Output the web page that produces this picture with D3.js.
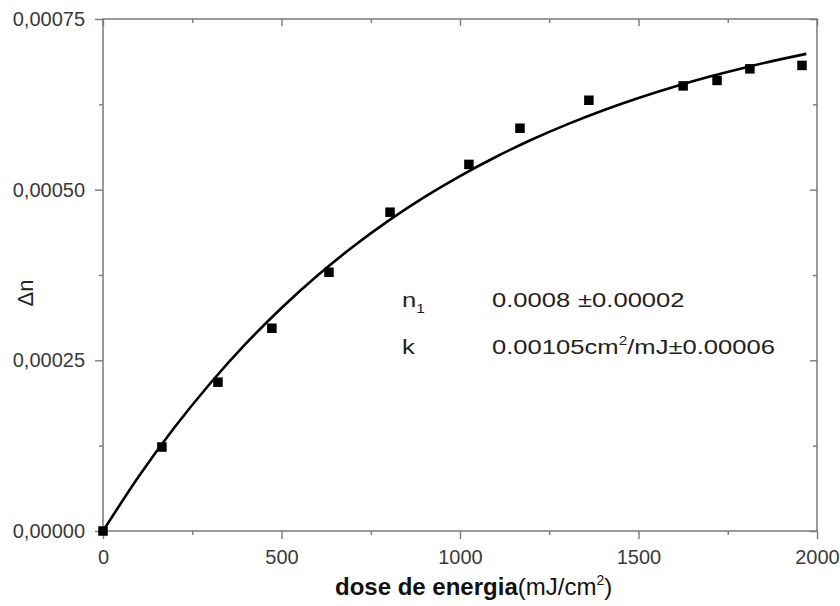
<!DOCTYPE html>
<html>
<head>
<meta charset="utf-8">
<script src="https://cdn.jsdelivr.net/npm/d3@7"></script>
<style>
  html, body { margin: 0; padding: 0; background: #fff; }
  svg { display: block; font-family: "Liberation Sans", Arial, sans-serif; }
</style>
</head>
<body>
<svg id="chart" width="840" height="606"></svg>
<script>
// ---- data ----
const doseX  = [0, 165, 322, 473, 633, 804, 1025, 1168, 1361, 1625, 1720, 1812, 1958];
const deltaN = [0, 0.000123, 0.000218, 0.000297, 0.000379, 0.000467, 0.000537, 0.000590, 0.000631, 0.000652, 0.000660, 0.000677, 0.000682];
const fitX = [0, 100, 200, 300, 400, 500, 600, 700, 800, 900, 1000, 1100, 1200, 1300, 1400, 1500, 1600, 1700, 1800, 1900, 1970];
const fitY = [0, 0.0000798, 0.0001515, 0.0002161, 0.0002744, 0.0003267, 0.0003739, 0.0004164, 0.0004546, 0.0004891,
              0.0005200, 0.0005479, 0.0005731, 0.0005957, 0.0006161, 0.0006344, 0.0006509, 0.0006658, 0.0006791, 0.0006912, 0.0006989];
const xMajorTicks = [0, 500, 1000, 1500, 2000];
const xMinorTicks = [250, 750, 1250, 1750];
const yMajorTicks = [0, 0.00025, 0.0005, 0.00075];
const yMinorTicks = [0.000125, 0.000375, 0.000625];
const yTickLabels = ["0,00000", "0,00025", "0,00050", "0,00075"];

const W = 840, H = 606;
const m = {left: 103, right: 23, top: 19, bottom: 75};
const svg = d3.select("#chart");
const x = d3.scaleLinear().domain([0, 2000]).range([m.left, W - m.right]);
const y = d3.scaleLinear().domain([0, 0.00075]).range([H - m.bottom, m.top]);

const axisColor = "#7a7a7a";
function styleAxis(g) {
  g.select(".domain").remove();
  g.selectAll(".tick line").attr("stroke", axisColor).attr("stroke-width", 1.4);
  g.selectAll(".tick text").attr("fill", "#3a3a3a").style("font-size", "20px")
    .style("font-family", '"Liberation Sans", Arial, sans-serif');
}

// bottom
svg.append("g").attr("transform", `translate(0,${y(0)})`)
  .call(d3.axisBottom(x).tickValues(xMajorTicks).tickSize(8).tickPadding(11).tickFormat(d3.format("d")))
  .call(styleAxis);
svg.append("g").attr("transform", `translate(0,${y(0)})`)
  .call(d3.axisBottom(x).tickValues(xMinorTicks).tickSize(4).tickFormat(""))
  .call(styleAxis);
// top (inward)
svg.append("g").attr("transform", `translate(0,${y(0.00075)})`)
  .call(d3.axisBottom(x).tickValues(xMajorTicks).tickSize(7).tickFormat(""))
  .call(styleAxis);
svg.append("g").attr("transform", `translate(0,${y(0.00075)})`)
  .call(d3.axisBottom(x).tickValues(xMinorTicks).tickSize(4).tickFormat(""))
  .call(styleAxis);
// left
svg.append("g").attr("transform", `translate(${x(0)},0)`)
  .call(d3.axisLeft(y).tickValues(yMajorTicks).tickSize(8).tickPadding(10)
        .tickFormat((d, i) => yTickLabels[i]))
  .call(styleAxis);
svg.append("g").attr("transform", `translate(${x(0)},0)`)
  .call(d3.axisLeft(y).tickValues(yMinorTicks).tickSize(4).tickFormat(""))
  .call(styleAxis);
// right (inward)
svg.append("g").attr("transform", `translate(${x(2000)},0)`)
  .call(d3.axisLeft(y).tickValues(yMajorTicks).tickSize(7).tickFormat(""))
  .call(styleAxis);
svg.append("g").attr("transform", `translate(${x(2000)},0)`)
  .call(d3.axisLeft(y).tickValues(yMinorTicks).tickSize(4).tickFormat(""))
  .call(styleAxis);

// frame
svg.append("rect")
  .attr("x", x(0)).attr("y", y(0.00075))
  .attr("width", x(2000) - x(0)).attr("height", y(0) - y(0.00075))
  .attr("fill", "none").attr("stroke", axisColor).attr("stroke-width", 1.5);

// fit curve
const line = d3.line().x((d, i) => x(fitX[i])).y(d => y(d)).curve(d3.curveMonotoneX);
svg.append("path").datum(fitY).attr("d", line)
  .attr("fill", "none").attr("stroke", "#000").attr("stroke-width", 2.6);

// points
const s = 9.5;
svg.append("g").selectAll("rect").data(doseX).join("rect")
  .attr("x", (d) => x(d) - s / 2)
  .attr("y", (d, i) => y(deltaN[i]) - s / 2)
  .attr("width", s).attr("height", s).attr("fill", "#000");

// axis titles
const xl = svg.append("text").attr("x", 335).attr("y", 595).attr("fill", "#111")
  .style("font-size", "24px");
xl.append("tspan").style("font-weight", "bold").text("dose de energia");
xl.append("tspan").text("(mJ/cm");
xl.append("tspan").attr("dy", -10).style("font-size", "14px").text("2");
xl.append("tspan").attr("dy", 10).text(")");

svg.append("text").attr("transform", "translate(33,293) rotate(-90)")
  .attr("text-anchor", "middle").attr("fill", "#222").style("font-size", "22px").text("Δn");

// annotation
const ann = svg.append("g").attr("fill", "#222").style("font-size", "20px");
const t1 = ann.append("text").attr("transform", "translate(402,307) scale(1.28,1)");
t1.append("tspan").text("n");
t1.append("tspan").attr("dy", 6).style("font-size", "12px").text("1");
ann.append("text").attr("transform", "translate(492,307) scale(1.28,1)").text("0.0008");
ann.append("text").attr("transform", "translate(578,307) scale(1.28,1)").text("±0.00002");
ann.append("text").attr("transform", "translate(402,354) scale(1.28,1)").text("k");
const t2 = ann.append("text").attr("transform", "translate(492,354) scale(1.28,1)");
t2.append("tspan").text("0.00105cm");
t2.append("tspan").attr("dy", -9).style("font-size", "12px").text("2");
t2.append("tspan").attr("dy", 9).text("/mJ±0.00006");
</script>
</body>
</html>
